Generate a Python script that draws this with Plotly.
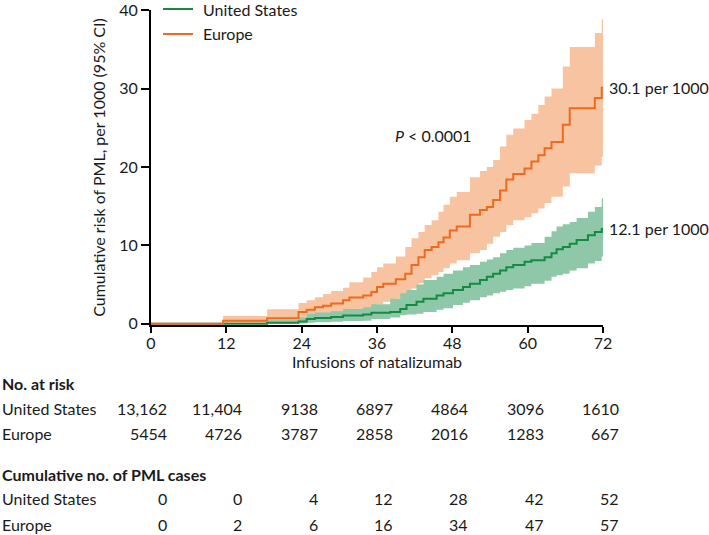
import plotly.graph_objects as go

# ---------------- data ----------------
eu_t = [0, 11.5, 18.5, 23.5, 24.8, 26.1, 27.4, 28.7, 30.6, 31.6, 33.8, 35.1, 36.0, 37.0, 39.0, 40.5,
        41.5, 42.6, 43.6, 44.7, 45.8, 46.6, 47.6, 48.7, 50.8, 52.4, 53.5, 54.5, 55.6, 56.6, 57.7,
        59.5, 60.6, 61.7, 62.7, 63.8, 65.6, 66.7, 70.7, 71.8, 72]
eu_est = [0, 0.4, 0.7, 1.5, 1.8, 2.1, 2.3, 2.6, 3.0, 3.35, 3.6, 4.06, 4.7, 5.1, 5.7, 6.4,
          7.5, 8.5, 9.4, 9.8, 10.4, 11.0, 11.9, 12.4, 13.9, 14.5, 14.9, 15.8, 17.0, 18.4, 19.1,
          19.8, 20.7, 21.5, 22.4, 23.2, 25.4, 27.5, 28.8, 30.1, 30.1]
eu_lo = [0, 0.05, 0.15, 0.6, 0.75, 0.9, 1.05, 1.2, 1.45, 1.65, 1.8, 2.1, 2.5, 2.8, 3.2, 3.7,
         4.5, 5.2, 5.8, 6.2, 6.6, 7.1, 7.7, 8.1, 9.0, 9.4, 10.2, 11.1, 11.7, 12.6, 13.2,
         13.6, 14.1, 14.7, 15.4, 16.2, 17.5, 19.2, 20.2, 21.3, 21.3]
eu_hi = [0, 1.0, 1.85, 2.65, 3.0, 3.4, 3.8, 4.2, 4.6, 5.3, 5.9, 6.6, 7.2, 7.7, 8.6, 9.8,
         10.9, 11.7, 12.6, 13.2, 14.3, 15.2, 16.2, 16.8, 18.7, 19.5, 20.0, 20.9, 22.6, 24.1, 24.9,
         26.0, 26.8, 27.9, 29.0, 30.0, 32.8, 35.3, 37.1, 38.8, 38.8]

us_t = [0, 12, 18.5, 23.5, 24.8, 26.1, 28.7, 30.6, 33.8, 35.1, 38.1, 39.7, 40.7, 42.3, 43.4,
        45.5, 46.6, 48.1, 49.7, 50.8, 52.4, 53.5, 54.5, 55.6, 56.6, 57.7, 59.5, 60.6, 62.7,
        63.8, 64.6, 65.6, 66.7, 67.8, 69.6, 70.7, 71.8, 72]
us_est = [0, 0, 0.15, 0.3, 0.6, 0.75, 0.87, 1.05, 1.2, 1.4, 1.5, 1.9, 2.4, 2.8, 3.2,
          3.6, 3.9, 4.3, 4.7, 5.1, 5.6, 6.0, 6.4, 6.8, 7.2, 7.5, 7.9, 8.1, 8.5,
          9.0, 9.5, 9.8, 10.2, 10.7, 11.3, 11.7, 12.1, 12.1]
us_lo = [0, 0, 0.02, 0.05, 0.15, 0.2, 0.25, 0.35, 0.4, 0.6, 0.8, 1.1, 1.2, 1.3, 1.5,
         1.8, 2.0, 2.4, 2.7, 3.0, 3.4, 3.6, 3.9, 4.1, 4.3, 4.5, 4.8, 5.1, 5.5,
         6.0, 6.2, 6.4, 6.8, 7.1, 7.7, 8.0, 8.6, 8.6]
us_hi = [0, 0, 0.45, 0.8, 1.3, 1.45, 1.6, 1.9, 2.1, 2.5, 3.2, 3.9, 4.3, 5.0, 5.6,
         6.0, 6.4, 6.8, 7.2, 7.5, 7.9, 8.2, 8.5, 9.0, 9.4, 9.7, 10.0, 10.3, 11.1,
         11.8, 12.4, 12.7, 13.0, 13.5, 14.3, 14.9, 16.0, 16.0]

x_ticks = [0, 12, 24, 36, 48, 60, 72]
y_ticks = [0, 10, 20, 30, 40]
row_names = ["United States", "Europe"]
at_risk_us = ["13,162", "11,404", "9138", "6897", "4864", "3096", "1610"]
at_risk_eu = ["5454", "4726", "3787", "2858", "2016", "1283", "667"]
cases_us = ["0", "0", "4", "12", "28", "42", "52"]
cases_eu = ["0", "2", "6", "16", "34", "47", "57"]

# ---------------- style ----------------
FONT = "Lato, 'Open Sans', sans-serif"
TXT = "#1a1a1a"
OR_LINE = "#EE6A1F"
OR_BAND = "#F7C3A0"
GR_LINE = "#168A45"
GR_BAND = "#8FC8A8"

W, H = 709, 535
ML, MR, MT, MB = 151, 106, 10, 210
PW, PH = W - ML - MR, H - MT - MB


def px_x(px):
    return (px - ML) / PW


def px_y(py):
    return (H - MB - py) / PH


fig = go.Figure()
fig.add_trace(go.Scatter(x=eu_t, y=eu_hi, mode="lines", line=dict(width=0, shape="hv"),
                         showlegend=False, hoverinfo="skip"))
fig.add_trace(go.Scatter(x=eu_t, y=eu_lo, mode="lines", line=dict(width=0, shape="hv"),
                         fill="tonexty", fillcolor=OR_BAND, showlegend=False, hoverinfo="skip"))
fig.add_trace(go.Scatter(x=us_t, y=us_hi, mode="lines", line=dict(width=0, shape="hv"),
                         showlegend=False, hoverinfo="skip"))
fig.add_trace(go.Scatter(x=us_t, y=us_lo, mode="lines", line=dict(width=0, shape="hv"),
                         fill="tonexty", fillcolor=GR_BAND, showlegend=False, hoverinfo="skip"))
fig.add_trace(go.Scatter(x=us_t, y=us_est, mode="lines", name="United States",
                         line=dict(color=GR_LINE, width=2, shape="hv"), showlegend=False))
fig.add_trace(go.Scatter(x=eu_t, y=eu_est, mode="lines", name="Europe",
                         line=dict(color=OR_LINE, width=2, shape="hv"), showlegend=False))

fig.update_layout(
    width=W, height=H,
    margin=dict(l=ML, r=MR, t=MT, b=MB, autoexpand=False),
    paper_bgcolor="white", plot_bgcolor="white",
    font=dict(family=FONT, size=15, color=TXT),
    showlegend=False,
    xaxis=dict(range=[0, 72], tickvals=x_ticks, showline=True, linecolor="black", linewidth=2,
               ticks="outside", ticklen=6, tickwidth=2, tickcolor="black", showgrid=False,
               zeroline=False, layer="below traces", tickfont=dict(size=16),
               ticklabelstandoff=-3, ticklabeloverflow="allow", automargin=False,
               title=dict(text="Infusions of natalizumab", font=dict(size=16), standoff=0)),
    yaxis=dict(range=[-0.15, 40.02], tickvals=y_ticks, showline=True, linecolor="black",
               linewidth=2, ticks="outside", ticklen=8, tickwidth=2, tickcolor="black",
               showgrid=False, zeroline=False, layer="below traces", tickfont=dict(size=16),
               ticklabeloverflow="allow", automargin=False,
               title=dict(text="Cumulative risk of PML, per 1000 (95% CI)", font=dict(size=16),
                          standoff=10)),
)

# manual legend (top-left, inside plot)
shapes = []
ann = []
for name, col, py in [(row_names[0], GR_LINE, 9), (row_names[1], OR_LINE, 34)]:
    shapes.append(dict(type="line", xref="paper", yref="paper", x0=px_x(163), x1=px_x(193),
                       y0=px_y(py), y1=px_y(py), line=dict(color=col, width=2)))
    ann.append(dict(x=px_x(201), y=px_y(py), xref="paper", yref="paper", text=name,
                    showarrow=False, xanchor="left", yanchor="middle", font=dict(size=16)))

ann.append(dict(x=45, y=24, xref="x", yref="y", text="<i>P</i> < 0.0001", showarrow=False,
                font=dict(size=16)))
ann.append(dict(x=72, y=eu_est[-1], xref="x", yref="y", text=f"{eu_est[-1]:.1f} per 1000",
                showarrow=False, xanchor="left", xshift=4, font=dict(size=16)))
ann.append(dict(x=72, y=us_est[-1], xref="x", yref="y", text=f"{us_est[-1]:.1f} per 1000",
                showarrow=False, xanchor="left", xshift=4, font=dict(size=16)))


def header(text, py):
    ann.append(dict(x=px_x(0), y=px_y(py), xref="paper", yref="paper", text=f"<b>{text}</b>",
                    showarrow=False, xanchor="left", yanchor="middle", font=dict(size=16)))


def row(name, vals, py):
    ann.append(dict(x=px_x(0), y=px_y(py), xref="paper", yref="paper", text=name, showarrow=False,
                    xanchor="left", yanchor="middle", font=dict(size=16)))
    for xv, v in zip(x_ticks, vals):
        ann.append(dict(x=xv, y=px_y(py), xref="x", yref="paper", text=v, showarrow=False,
                        xanchor="right", yanchor="middle", xshift=18, font=dict(size=16)))


header("No. at risk", 383)
row(row_names[0], at_risk_us, 408)
row(row_names[1], at_risk_eu, 433)
header("Cumulative no. of PML cases", 474)
row(row_names[0], cases_us, 498.5)
row(row_names[1], cases_eu, 524)

fig.update_layout(annotations=ann, shapes=shapes)
fig.write_html("out.html", config={"displayModeBar": False},
               post_script="document.body.style.margin='0px';document.body.style.padding='0px';")
